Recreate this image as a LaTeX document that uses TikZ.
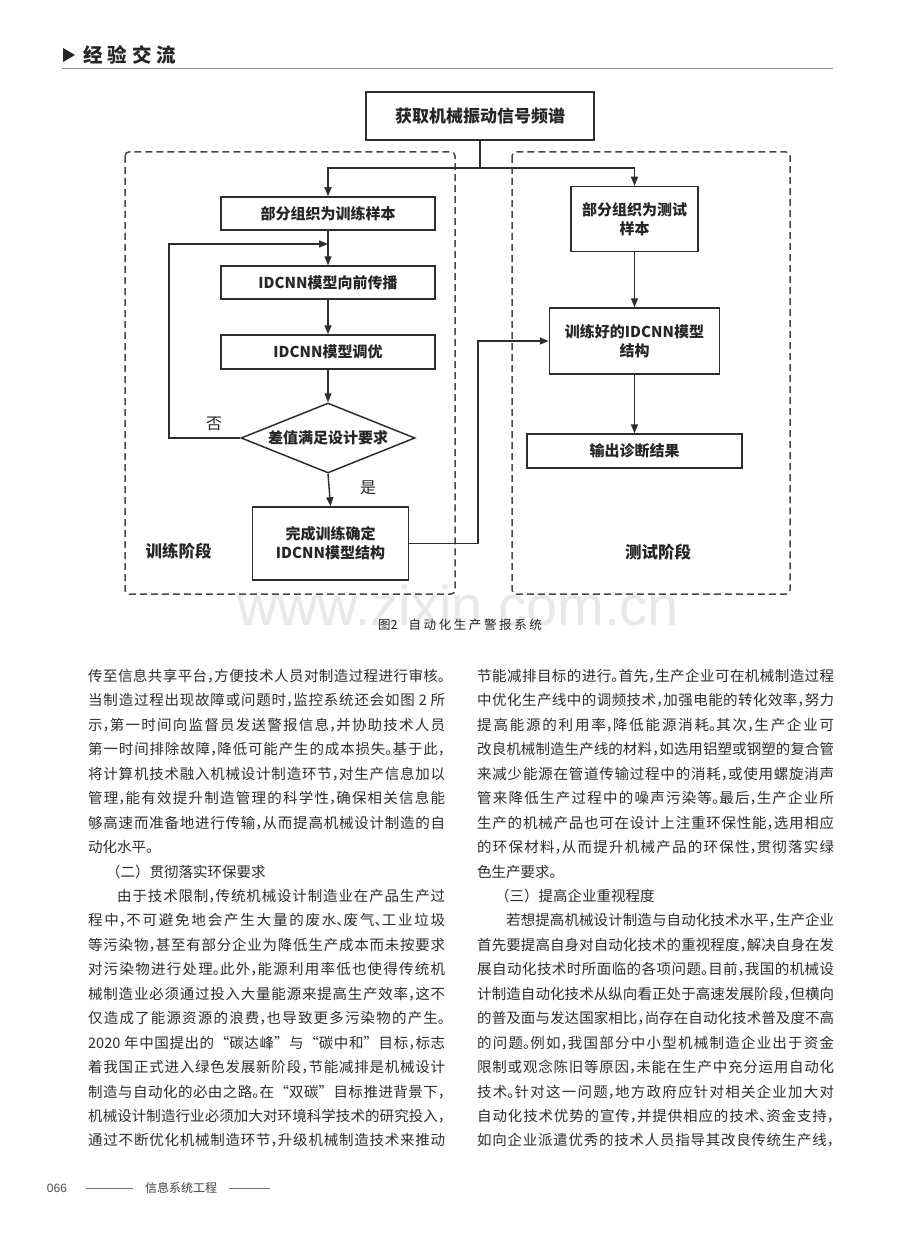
\documentclass[tikz,border=0pt]{standalone}
\usepackage{fontspec}
\setmainfont{Noto Sans CJK SC}
\newfontfamily\latf{Liberation Sans}
\usetikzlibrary{arrows.meta,shapes.geometric}
\XeTeXlinebreaklocale "zh"
\XeTeXlinebreakskip=0pt plus 2pt
\newcommand\zc{\makebox[.5em][l]{，}}
\newcommand\zp{\makebox[.5em][l]{。}}
\newcommand\zd{\makebox[.5em][l]{、}}
\newcommand\jl[2]{\parbox[t]{#1}{\parindent=0pt\parfillskip=0pt\tolerance=10000\pretolerance=-1\hbadness=10000\relax #2}}
\newcommand\capsp{\hspace{2.6pt}}
\tikzset{
  box/.style={draw=black!82, line width=1.5pt, fill=white, inner sep=0pt, align=center,
    font=\bfseries\fontsize{15}{19}\selectfont, text=black!85},
  arr/.style={draw=black!82, line width=1.4pt, -{Triangle[length=9pt,width=7pt]}},
  ln/.style={draw=black!82, line width=1.4pt},
  zone/.style={draw=black!72, line width=1.5pt, dash pattern=on 7pt off 4pt, rounded corners=4pt},
  body/.style={anchor=base west, inner sep=0pt, font=\fontsize{14.5}{17}\selectfont, text=black!82},
  lbl/.style={inner sep=0pt, font=\fontsize{16}{18}\selectfont, text=black!85},
  stage/.style={inner sep=0pt, font=\bfseries\fontsize{16.5}{19}\selectfont, text=black!85},
}
\begin{document}
\begin{tikzpicture}[x=1pt,y=-1pt]
\fill[white] (0,0) rectangle (920,1249);
\useasboundingbox (0,0) rectangle (920,1249);

% ---------- header ----------
\fill[black!85] (63,48) -- (63,62) -- (75,55) -- cycle;
\node[anchor=west, inner sep=0pt, font=\bfseries\fontsize{19.5}{21}\selectfont, text=black!85] (hdr) at (83,55)
  {经\hspace{5pt}验\hspace{5pt}交\hspace{5pt}流};
\draw[black!45, line width=0.8pt] (62,68) -- (833,68);

% ---------- watermark and caption ----------
\node[anchor=base, inner sep=0pt, font=\latf\fontsize{56}{56}\selectfont, text=black!9] (wm) at (458,625) {www.zixin.com.cn};
\node[inner sep=0pt, font=\fontsize{12.5}{14}\selectfont, text=black!85] (cap) at (460,625)
  {图2\hspace{11pt}自\capsp 动\capsp 化\capsp 生\capsp 产\capsp 警\capsp 报\capsp 系\capsp 统};

% ---------- zones ----------
\draw[zone] (125,152) rectangle (455,594);
\draw[zone] (512,152) rectangle (790,594);

% ---------- nodes ----------
\node[box, minimum width=228pt, minimum height=48pt, font=\bfseries\fontsize{17}{20}\selectfont] (top) at (480,116) {获取机械振动信号频谱};
\node[box, minimum width=214pt, minimum height=33pt] (A) at (328,213.5) {部分组织为训练样本};
\node[box, minimum width=214pt, minimum height=33pt] (B) at (328,282.5) {IDCNN模型向前传播};
\node[box, minimum width=214pt, minimum height=34pt] (C) at (328,352) {IDCNN模型调优};
\node[diamond, draw=black!82, line width=1.5pt, fill=white, aspect=2.49, minimum width=174pt, minimum height=70pt,
  inner sep=0pt, font=\bfseries\fontsize{15}{19}\selectfont, text=black!85] (D) at (328,438) {差值满足设计要求};
\node[box, minimum width=156pt, minimum height=73pt] (E) at (330.5,543.5) {完成训练确定\\IDCNN模型结构};
\node[box, minimum width=127pt, minimum height=65pt] (R) at (634.5,219) {部分组织为测试\\样本};
\node[box, minimum width=170pt, minimum height=66pt] (F) at (634.5,341) {训练好的IDCNN模型\\结构};
\node[box, minimum width=215pt, minimum height=34pt] (G) at (634.5,451) {输出诊断结果};

\node[lbl] (no) at (214,424) {否};
\node[lbl] (yes) at (368,488) {是};
\node[stage] (s1) at (178.5,551.5) {训练阶段};
\node[stage] (s2) at (658,552) {测试阶段};

% ---------- connectors ----------
\coordinate (br) at (480,168);
\coordinate (bl) at (328,168);
\coordinate (fbL) at (169,244);
\coordinate (fbT) at (328,244);
\coordinate (m1) at (478,543.5);
\draw[ln] (top.south) -- (br);
\draw[arr] (br) -- (bl) -- (A.north);
\draw[arr] (br) -| (R.north);
\draw[arr] (A.south) -- (B.north);
\draw[arr] (D.west) -| (fbL) -- (fbT);
\draw[arr] (B.south) -- (C.north);
\draw[arr] (C.south) -- (D.north);
\draw[arr] (D.south) -- (E.north);
\draw[arr] (E.east) -- (m1) |- (F.west);
\draw[arr] (R.south) -- (F.north);
\draw[arr] (F.south) -- (G.north);

% ---------- left column ----------
\node[body] (l0) at (88,681.4) {\jl{357pt}{传至信息共享平台\zc 方便技术人员对制造过程进行审核\zp}};
\node[body] (l1) at (88,705.85) {\jl{357pt}{当制造过程出现故障或问题时\zc 监控系统还会如图 2 所}};
\node[body] (l2) at (88,730.3) {\jl{357pt}{示\zc 第一时间向监督员发送警报信息\zc 并协助技术人员}};
\node[body] (l3) at (88,754.75) {\jl{357pt}{第一时间排除故障\zc 降低可能产生的成本损失\zp 基于此\zc}};
\node[body] (l4) at (88,779.2) {\jl{357pt}{将计算机技术融入机械设计制造环节\zc 对生产信息加以}};
\node[body] (l5) at (88,803.65) {\jl{357pt}{管理\zc 能有效提升制造管理的科学性\zc 确保相关信息能}};
\node[body] (l6) at (88,828.1) {\jl{357pt}{够高速而准备地进行传输\zc 从而提高机械设计制造的自}};
\node[body] (l7) at (88,852.55) {动化水平\zp};
\node[body] (l8) at (106,877.0) {（二）贯彻落实环保要求};
\node[body] (l9) at (117,901.45) {\jl{328pt}{由于技术限制\zc 传统机械设计制造业在产品生产过}};
\node[body] (l10) at (88,925.9) {\jl{357pt}{程中\zc 不可避免地会产生大量的废水\zd 废气\zd 工业垃圾}};
\node[body] (l11) at (88,950.35) {\jl{357pt}{等污染物\zc 甚至有部分企业为降低生产成本而未按要求}};
\node[body] (l12) at (88,974.8) {\jl{357pt}{对污染物进行处理\zp 此外\zc 能源利用率低也使得传统机}};
\node[body] (l13) at (88,999.25) {\jl{357pt}{械制造业必须通过投入大量能源来提高生产效率\zc 这不}};
\node[body] (l14) at (88,1023.7) {\jl{357pt}{仅造成了能源资源的浪费\zc 也导致更多污染物的产生\zp}};
\node[body] (l15) at (88,1048.15) {\jl{357pt}{2020 年中国提出的“碳达峰”与“碳中和”目标\zc 标志}};
\node[body] (l16) at (88,1072.6) {\jl{357pt}{着我国正式进入绿色发展新阶段\zc 节能减排是机械设计}};
\node[body] (l17) at (88,1097.05) {\jl{357pt}{制造与自动化的必由之路\zp 在“双碳”目标推进背景下\zc}};
\node[body] (l18) at (88,1121.5) {\jl{357pt}{机械设计制造行业必须加大对环境科学技术的研究投入\zc}};
\node[body] (l19) at (88,1145.95) {\jl{357pt}{通过不断优化机械制造环节\zc 升级机械制造技术来推动}};

% ---------- right column ----------
\node[body] (r0) at (477,681.4) {\jl{357pt}{节能减排目标的进行\zp 首先\zc 生产企业可在机械制造过程}};
\node[body] (r1) at (477,705.85) {\jl{357pt}{中优化生产线中的调频技术\zc 加强电能的转化效率\zc 努力}};
\node[body] (r2) at (477,730.3) {\jl{357pt}{提高能源的利用率\zc 降低能源消耗\zp 其次\zc 生产企业可}};
\node[body] (r3) at (477,754.75) {\jl{357pt}{改良机械制造生产线的材料\zc 如选用铝塑或钢塑的复合管}};
\node[body] (r4) at (477,779.2) {\jl{357pt}{来减少能源在管道传输过程中的消耗\zc 或使用螺旋消声}};
\node[body] (r5) at (477,803.65) {\jl{357pt}{管来降低生产过程中的噪声污染等\zp 最后\zc 生产企业所}};
\node[body] (r6) at (477,828.1) {\jl{357pt}{生产的机械产品也可在设计上注重环保性能\zc 选用相应}};
\node[body] (r7) at (477,852.55) {\jl{357pt}{的环保材料\zc 从而提升机械产品的环保性\zc 贯彻落实绿}};
\node[body] (r8) at (477,877.0) {色生产要求\zp};
\node[body] (r9) at (495,901.45) {（三）提高企业重视程度};
\node[body] (r10) at (506,925.9) {\jl{328pt}{若想提高机械设计制造与自动化技术水平\zc 生产企业}};
\node[body] (r11) at (477,950.35) {\jl{357pt}{首先要提高自身对自动化技术的重视程度\zc 解决自身在发}};
\node[body] (r12) at (477,974.8) {\jl{357pt}{展自动化技术时所面临的各项问题\zp 目前\zc 我国的机械设}};
\node[body] (r13) at (477,999.25) {\jl{357pt}{计制造自动化技术从纵向看正处于高速发展阶段\zc 但横向}};
\node[body] (r14) at (477,1023.7) {\jl{357pt}{的普及面与发达国家相比\zc 尚存在自动化技术普及度不高}};
\node[body] (r15) at (477,1048.15) {\jl{357pt}{的问题\zp 例如\zc 我国部分中小型机械制造企业出于资金}};
\node[body] (r16) at (477,1072.6) {\jl{357pt}{限制或观念陈旧等原因\zc 未能在生产中充分运用自动化}};
\node[body] (r17) at (477,1097.05) {\jl{357pt}{技术\zp 针对这一问题\zc 地方政府应针对相关企业加大对}};
\node[body] (r18) at (477,1121.5) {\jl{357pt}{自动化技术优势的宣传\zc 并提供相应的技术\zd 资金支持\zc}};
\node[body] (r19) at (477,1145.95) {\jl{357pt}{如向企业派遣优秀的技术人员指导其改良传统生产线\zc}};

% ---------- footer ----------
\node[inner sep=0pt, font=\latf\fontsize{12}{14}\selectfont, text=black!70] (pg) at (57,1188) {066};
\node[inner sep=0pt, font=\fontsize{12}{14}\selectfont, text=black!75] (jn) at (181,1188) {信息系统工程};
\draw[black!55, line width=0.6pt] (86,1188) -- (133,1188);
\draw[black!55, line width=0.6pt] (229,1188) -- (270,1188);
\end{tikzpicture}
\end{document}
